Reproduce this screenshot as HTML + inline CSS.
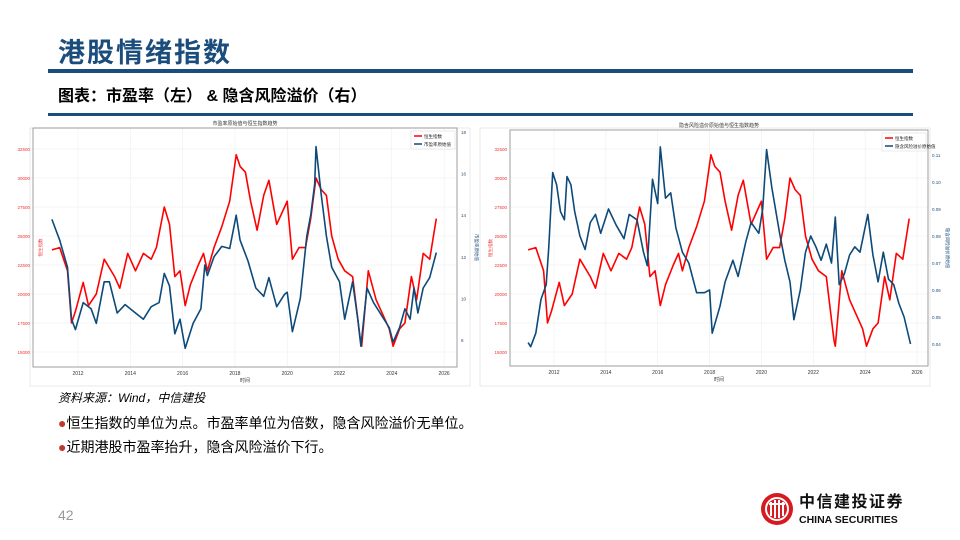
<!DOCTYPE html>
<html><head><meta charset="utf-8"><style>
body{margin:0;background:#fff;}
#slide{position:relative;width:960px;height:540px;overflow:hidden;background:#fff;font-family:"Liberation Sans","Noto Sans CJK SC",sans-serif;}
.abs{position:absolute;}
</style></head><body>
<div id="slide">
<div class="abs" style="left:58px;top:31px;font-size:27px;font-weight:bold;color:#1a4d7c;letter-spacing:2px;">港股情绪指数</div>
<div class="abs" style="left:48px;top:69px;width:865px;height:4px;background:#1a4d7c;"></div>
<div class="abs" style="left:58px;top:82px;font-size:16px;font-weight:bold;color:#000;">图表：市盈率（左） &amp; 隐含风险溢价（右）</div>
<div class="abs" style="left:48px;top:113px;width:865px;height:3px;background:#1a4d7c;"></div>
<svg class="abs" style="left:0;top:0" width="960" height="540" id="charts"></svg>
<div class="abs" style="left:58px;top:389px;font-size:12px;font-style:italic;color:#000;">资料来源：Wind，中信建投</div>
<div class="abs" style="left:58px;top:413px;font-size:14px;color:#000;"><span style="color:#c0392b">●</span>恒生指数的单位为点。市盈率单位为倍数，隐含风险溢价无单位。</div>
<div class="abs" style="left:58px;top:437px;font-size:14px;color:#000;"><span style="color:#c0392b">●</span>近期港股市盈率抬升，隐含风险溢价下行。</div>
<div class="abs" style="left:58px;top:507px;font-size:14px;color:#999;">42</div>
<svg class="abs" style="left:760px;top:492px" width="34" height="34">
<circle cx="17" cy="17" r="16" fill="#d71920"/><circle cx="17" cy="17" r="11" fill="none" stroke="#fff" stroke-width="2"/>
<path d="M11 10v14M15 8v18M19 8v18M23 10v14M9 12h16" stroke="#fff" stroke-width="2" fill="none"/></svg>
<div class="abs" style="left:799px;top:494px;font-size:16px;font-weight:bold;color:#111;letter-spacing:1.5px;line-height:18px;">中信建投证券</div>
<div class="abs" style="left:799px;top:514px;font-size:10.5px;font-weight:bold;color:#111;line-height:12px;">CHINA SECURITIES</div>
</div>
<script>
const dates=[2011.0,2011.3,2011.6,2011.75,2011.9,2012.2,2012.4,2012.7,2013.0,2013.4,2013.6,2013.9,2014.2,2014.5,2014.8,2015.0,2015.3,2015.5,2015.7,2015.9,2016.1,2016.3,2016.6,2016.8,2016.95,2017.2,2017.5,2017.8,2018.05,2018.2,2018.4,2018.6,2018.85,2019.1,2019.3,2019.6,2019.9,2020.0,2020.2,2020.45,2020.7,2020.9,2021.1,2021.3,2021.5,2021.7,2021.95,2022.2,2022.5,2022.8,2022.85,2023.1,2023.4,2023.7,2023.9,2024.05,2024.3,2024.5,2024.75,2024.95,2025.2,2025.45,2025.7];
const hsi=[23800,24000,22000,17500,18500,21000,19000,20000,23000,21500,20500,23500,22000,23500,23000,24000,27500,26000,21500,22000,19000,20800,22500,23500,22000,24000,25800,28000,32000,31000,30500,28000,25500,28500,29800,26000,27500,28000,23000,24000,24000,26500,30000,29000,28500,25000,23000,22000,21500,16000,15500,22000,19500,18000,17000,15500,17000,17500,21500,19500,23500,23000,26500];
const peDates=[2011.0,2011.3,2011.6,2011.75,2011.9,2012.2,2012.5,2012.7,2013.0,2013.2,2013.5,2013.8,2014.2,2014.5,2014.8,2015.1,2015.3,2015.5,2015.7,2015.9,2016.1,2016.4,2016.7,2016.85,2016.95,2017.2,2017.5,2017.8,2018.05,2018.2,2018.5,2018.8,2019.1,2019.3,2019.6,2019.9,2020.0,2020.2,2020.5,2020.75,2020.9,2021.05,2021.1,2021.3,2021.5,2021.7,2022.0,2022.2,2022.5,2022.7,2022.82,2023.05,2023.3,2023.6,2023.9,2024.05,2024.3,2024.5,2024.7,2024.85,2025.0,2025.2,2025.45,2025.7];
const pe=[13.8,12.8,11.5,9.0,8.5,9.8,9.5,8.8,10.8,10.8,9.3,9.7,9.3,9.0,9.6,9.8,11.2,10.6,8.3,9.0,7.6,8.8,9.5,11.6,11.1,12.0,12.5,12.4,14.0,12.8,11.8,10.5,10.1,11.0,9.6,10.2,10.3,8.4,10.0,13.0,14.0,15.5,17.3,15.0,13.0,11.5,10.8,9.0,10.8,9.0,7.7,10.5,9.8,9.2,8.6,7.9,8.6,9.5,9.0,10.5,9.3,10.5,11.0,12.2];
const erpDates=[2011.0,2011.1,2011.3,2011.5,2011.7,2011.8,2011.95,2012.1,2012.25,2012.4,2012.5,2012.65,2012.8,2013.0,2013.2,2013.4,2013.6,2013.8,2014.1,2014.4,2014.7,2014.9,2015.2,2015.45,2015.6,2015.8,2016.0,2016.1,2016.3,2016.5,2016.7,2016.95,2017.2,2017.5,2017.8,2018.0,2018.1,2018.4,2018.6,2018.9,2019.1,2019.4,2019.6,2019.9,2020.05,2020.2,2020.4,2020.7,2020.9,2021.1,2021.25,2021.5,2021.7,2021.9,2022.1,2022.3,2022.5,2022.7,2022.85,2023.0,2023.2,2023.4,2023.6,2023.8,2023.95,2024.1,2024.3,2024.5,2024.7,2024.9,2025.1,2025.3,2025.5,2025.75];
const erp=[0.0405,0.039,0.044,0.0565,0.062,0.076,0.1035,0.099,0.089,0.086,0.102,0.099,0.089,0.080,0.075,0.085,0.088,0.081,0.090,0.084,0.079,0.088,0.086,0.074,0.069,0.101,0.092,0.113,0.094,0.096,0.083,0.074,0.070,0.059,0.059,0.060,0.044,0.054,0.063,0.071,0.065,0.078,0.085,0.081,0.090,0.112,0.098,0.081,0.071,0.063,0.049,0.060,0.074,0.080,0.076,0.071,0.077,0.070,0.087,0.062,0.066,0.073,0.076,0.074,0.081,0.088,0.073,0.063,0.074,0.064,0.062,0.055,0.050,0.040];
const yearTicks=[2012,2014,2016,2018,2020,2022,2024,2026];
const hsiTicks=[15000,17500,20000,22500,25000,27500,30000,32500];
const peTicks=[8,10,12,14,16,18];
const erpTicks=[0.04,0.05,0.06,0.07,0.08,0.09,0.10,0.11];
const NS='http://www.w3.org/2000/svg';
const svg=document.getElementById('charts');
function mk(tag,attrs,parent){const e=document.createElementNS(NS,tag);for(const k in attrs)e.setAttribute(k,attrs[k]);(parent||svg).appendChild(e);return e;}
function drawChart(cfg){
  const g=mk('g',{});
  
  
  mk('rect',{x:cfg.ox,y:128,width:cfg.ow,height:258,fill:'#fff',stroke:'#ddd','stroke-width':0.6},g);
  const x=v=>cfg.x0+(v-2012)*cfg.xs;
  const yl=v=>352-(v-15000)*203/17500;
  const yr=cfg.yr;
  yearTicks.forEach(t=>{mk('line',{x1:x(t),x2:x(t),y1:cfg.top,y2:cfg.bot,stroke:'#eee','stroke-width':0.6},g);
    const tx=mk('text',{x:x(t),y:cfg.bot+8,'font-size':5,'text-anchor':'middle',fill:'#333'},g);tx.textContent=t;
    });
  hsiTicks.forEach(t=>{mk('line',{x1:cfg.left,x2:cfg.right,y1:yl(t),y2:yl(t),stroke:'#eee','stroke-width':0.6},g);
    const tx=mk('text',{x:cfg.left-3,y:yl(t)+2,'font-size':4.5,'text-anchor':'end',fill:'#e33'},g);tx.textContent=t;
    });
  cfg.rTicks.forEach(t=>{const tx=mk('text',{x:cfg.right+4,y:yr(t)+2,'font-size':4.5,fill:'#1a4d7c'},g);tx.textContent=cfg.rFmt(t);
    });
  mk('rect',{x:cfg.left,y:cfg.top,width:cfg.right-cfg.left,height:cfg.bot-cfg.top,fill:'none',stroke:'#888','stroke-width':0.8},g);
  const ttl=mk('text',{x:(cfg.left+cfg.right)/2,y:cfg.top-3,'font-size':5,'text-anchor':'middle',fill:'#333'},g);ttl.textContent=cfg.title;
  
  const xl=mk('text',{x:(cfg.left+cfg.right)/2,y:cfg.bot+15,'font-size':5,'text-anchor':'middle',fill:'#333'},g);xl.textContent='时间';
  
  const ll=mk('text',{x:0,y:0,'font-size':4.5,'text-anchor':'middle',fill:'#e33',transform:`translate(${cfg.ox+12},${(cfg.top+cfg.bot)/2}) rotate(-90)`},g);ll.textContent='恒生指数';
  
  const rl=mk('text',{x:0,y:0,'font-size':4.5,'text-anchor':'middle',fill:'#1a4d7c',transform:`translate(${cfg.right+18},${(cfg.top+cfg.bot)/2}) rotate(90)`},g);rl.textContent=cfg.rLabel;
  
  const p1=mk('path',{d:dates.map((d,i)=>(i?'L':'M')+x(d).toFixed(1)+','+yl(hsi[i]).toFixed(1)).join(''),fill:'none',stroke:'#ff0000','stroke-width':1.6,'stroke-linejoin':'round'},g);
  
  const p2=mk('path',{d:cfg.rDates.map((d,i)=>(i?'L':'M')+x(d).toFixed(1)+','+yr(cfg.rVals[i]).toFixed(1)).join(''),fill:'none',stroke:'#0d4a7a','stroke-width':1.6,'stroke-linejoin':'round'},g);
  
  const lg=mk('g',{},g);
  
  mk('rect',{x:cfg.right-46,y:cfg.top+3,width:44,height:18,fill:'#fff',stroke:'#ccc','stroke-width':0.4},lg);
  mk('line',{x1:cfg.right-43,x2:cfg.right-35,y1:cfg.top+8,y2:cfg.top+8,stroke:'#ff0000','stroke-width':1.5},lg);
  mk('line',{x1:cfg.right-43,x2:cfg.right-35,y1:cfg.top+16,y2:cfg.top+16,stroke:'#0d4a7a','stroke-width':1.5},lg);
  const a=mk('text',{x:cfg.right-33,y:cfg.top+10,'font-size':4.5,fill:'#222'},lg);a.textContent='恒生指数';
  const b=mk('text',{x:cfg.right-33,y:cfg.top+18,'font-size':4.5,fill:'#222'},lg);b.textContent=cfg.rLabel;
}
drawChart({name:'pe-chart',ox:30,ow:440,left:33,right:457,top:128,bot:367,x0:78,xs:26.15,
  yr:v=>340-(v-8)*20.8,rTicks:peTicks,rFmt:t=>t,rDates:peDates,rVals:pe,rName:'pe-line',
  title:'市盈率原始值与恒生指数趋势',rLabel:'市盈率原始值'});
drawChart({name:'erp-chart',ox:480,ow:450,left:510,right:928,top:130,bot:366,x0:554,xs:25.93,
  yr:v=>344-(v-0.04)*2700,rTicks:erpTicks,rFmt:t=>t.toFixed(2),rDates:erpDates,rVals:erp,rName:'erp-line',
  title:'隐含风险溢价原始值与恒生指数趋势',rLabel:'隐含风险溢价原始值'});
</script>
</body></html>
